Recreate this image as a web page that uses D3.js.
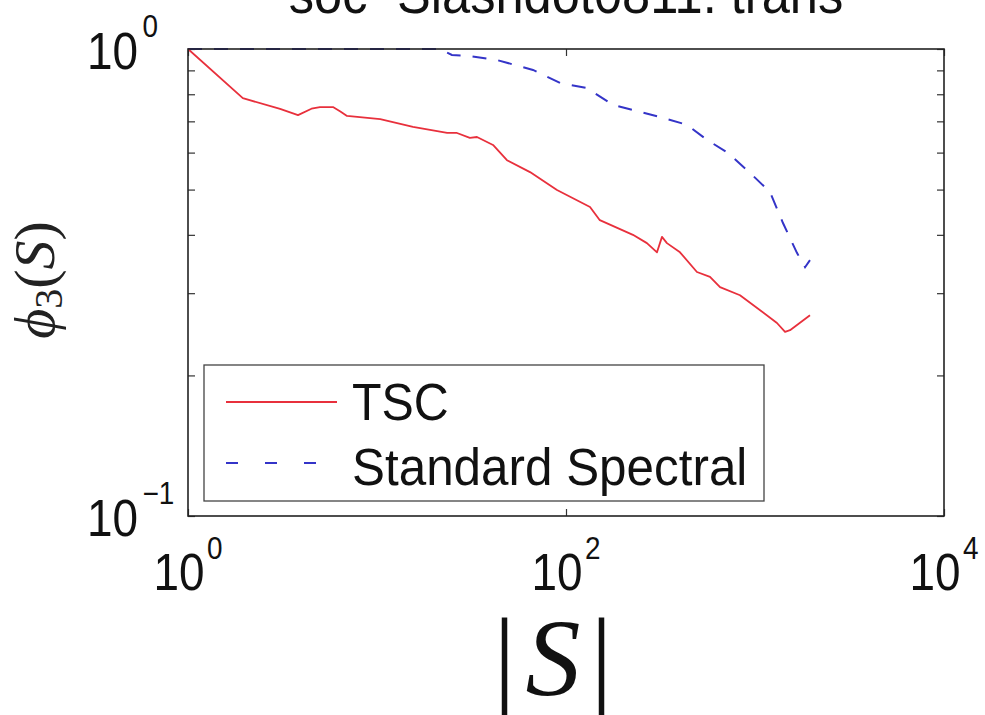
<!DOCTYPE html>
<html>
<head>
<meta charset="utf-8">
<script src="https://cdn.jsdelivr.net/npm/d3@7"></script>
<style>
  html, body { margin: 0; padding: 0; background: #fff; }
  svg { display: block; }
</style>
</head>
<body>
<script>
// ---- data ----
const titleText = "soc\u2212Slashdot0811: trans";
const seriesNames = ["TSC", "Standard Spectral"];

const tscX = [1, 1.95, 3.07, 3.82, 4.5, 4.99, 5.85, 6.4, 6.94, 10.4, 15.5, 23.5, 26.5, 31.0, 33.8, 41.1, 48.7, 64.5, 89.6, 134, 151, 226, 268, 303, 322, 342, 401, 493, 578, 653, 833, 1307, 1442, 1532, 1954];
const tscY = [1.0, 0.785, 0.744, 0.722, 0.745, 0.751, 0.751, 0.735, 0.719, 0.708, 0.681, 0.661, 0.661, 0.645, 0.648, 0.623, 0.578, 0.545, 0.499, 0.459, 0.430, 0.400, 0.384, 0.367, 0.396, 0.384, 0.367, 0.333, 0.325, 0.309, 0.297, 0.259, 0.248, 0.250, 0.269];

const specX = [1, 21.5, 24.9, 31, 43.1, 66.9, 93, 129, 177, 226, 314, 437, 557, 719, 941, 1200, 1406, 1667, 1840, 1954];
const specY = [1, 1, 0.971, 0.966, 0.947, 0.902, 0.846, 0.825, 0.759, 0.740, 0.715, 0.688, 0.639, 0.599, 0.543, 0.494, 0.424, 0.366, 0.341, 0.353];

const xMajorTicks = [1, 100, 10000];
const xTickExp = ["0", "2", "4"];
const yMajorTicks = [1, 0.1];
const yTickExp = ["0", "\u22121"];
const yMinorTicks = [0.2, 0.3, 0.4, 0.5, 0.6, 0.7, 0.8, 0.9];

// ---- layout ----
const W = 985, H = 715;
const L = 188, R = 944, T = 49, B = 516;
const SANS = "'Liberation Sans', Arial, Helvetica, sans-serif";
const SERIF = "'Liberation Serif', 'Times New Roman', Times, serif";
const SX = 0.9; // horizontal squeeze of the reference's glyphs

const svg = d3.select("body").append("svg").attr("width", W).attr("height", H);
svg.append("rect").attr("width", W).attr("height", H).attr("fill", "#fff");

const x = d3.scaleLog().domain([1, 1e4]).range([L, R]);
const y = d3.scaleLog().domain([0.1, 1]).range([B, T]);

// ticks (inward)
const tickLen = 7;
const axStyle = g => {
  g.select(".domain").remove();
  g.selectAll(".tick line").attr("stroke", "#333").attr("stroke-width", 1.2);
  g.selectAll(".tick text").remove();
};
svg.append("g").attr("transform", `translate(0,${B})`)
  .call(d3.axisBottom(x).tickValues(xMajorTicks).tickSize(-tickLen).tickFormat(""))
  .call(axStyle);
svg.append("g").attr("transform", `translate(0,${T})`)
  .call(d3.axisTop(x).tickValues(xMajorTicks).tickSize(-tickLen).tickFormat(""))
  .call(axStyle);
svg.append("g").attr("transform", `translate(${L},0)`)
  .call(d3.axisLeft(y).tickValues(yMinorTicks.concat(yMajorTicks)).tickSize(-tickLen).tickFormat(""))
  .call(axStyle);
svg.append("g").attr("transform", `translate(${R},0)`)
  .call(d3.axisRight(y).tickValues(yMinorTicks.concat(yMajorTicks)).tickSize(-tickLen).tickFormat(""))
  .call(axStyle);

// helper for squeezed text
function sText(px, py, sx) {
  return svg.append("g").attr("transform", `translate(${px},${py}) scale(${sx},1)`).append("text");
}

// title
sText(566, 13, 0.92).attr("text-anchor", "middle")
  .attr("font-family", SANS).attr("font-size", 55).attr("fill", "#111")
  .text(titleText);

// x tick labels
xMajorTicks.forEach((v, i) => {
  const t = sText(x(v), 590, SX).attr("text-anchor", "middle")
    .attr("font-family", SANS).attr("font-size", 51).attr("fill", "#111");
  t.append("tspan").text("10");
  t.append("tspan").attr("font-size", 31).attr("dy", -31).attr("dx", 3).text(xTickExp[i]);
});

// y tick labels
yMajorTicks.forEach((v, i) => {
  const t = sText(L - 101, y(v) + 19.5, SX).attr("text-anchor", "start")
    .attr("font-family", SANS).attr("font-size", 51).attr("fill", "#111");
  t.append("tspan").text("10");
  t.append("tspan").attr("font-size", 31).attr("dy", -32).attr("dx", 5).text(yTickExp[i]);
});

// data lines
const line = d3.line().x(d => x(d[0])).y(d => y(d[1]));
svg.append("clipPath").attr("id", "pa").append("rect")
  .attr("x", L).attr("y", T - 2).attr("width", R - L).attr("height", B - T + 4);

svg.append("path").datum(specX.map((v, i) => [v, specY[i]]))
  .attr("clip-path", "url(#pa)")
  .attr("d", line).attr("fill", "none").attr("stroke", "#3434c8")
  .attr("stroke-width", 2).attr("stroke-dasharray", "14,12");

svg.append("path").datum(tscX.map((v, i) => [v, tscY[i]]))
  .attr("clip-path", "url(#pa)")
  .attr("d", line).attr("fill", "none").attr("stroke", "#e8303c")
  .attr("stroke-width", 1.8).attr("stroke-linejoin", "round");

// frame
svg.append("rect").attr("x", L).attr("y", T).attr("width", R - L).attr("height", B - T)
  .attr("fill", "none").attr("stroke", "#222").attr("stroke-width", 1.6);

// legend
const lg = svg.append("g");
lg.append("rect").attr("x", 204).attr("y", 365).attr("width", 560).attr("height", 136)
  .attr("fill", "#fff").attr("stroke", "#444").attr("stroke-width", 1.3);
lg.append("line").attr("x1", 226).attr("x2", 337).attr("y1", 402).attr("y2", 402)
  .attr("stroke", "#e8303c").attr("stroke-width", 1.8);
lg.append("line").attr("x1", 226).attr("x2", 337).attr("y1", 463).attr("y2", 463)
  .attr("stroke", "#3434c8").attr("stroke-width", 1.8).attr("stroke-dasharray", "12,27");
sText(352, 420, 0.93).attr("font-family", SANS).attr("font-size", 52).attr("fill", "#111").text(seriesNames[0]);
sText(352, 485, 0.95).attr("font-family", SANS).attr("font-size", 52).attr("fill", "#111").text(seriesNames[1]);

// x axis label |S|
const xl = svg.append("text").attr("x", 553).attr("y", 695).attr("text-anchor", "middle")
  .attr("font-family", SERIF).attr("font-size", 110).attr("fill", "#111");
xl.append("tspan").text("|");
xl.append("tspan").attr("font-style", "italic").attr("dx", 10).text("S");
xl.append("tspan").attr("dx", 10).text("|");

// y axis label phi_3(S)
const yl = svg.append("text").attr("transform", "translate(54,280) rotate(-90)")
  .attr("text-anchor", "middle").attr("font-family", SERIF).attr("font-size", 58).attr("fill", "#222");
yl.append("tspan").attr("font-style", "italic").text("\u03D5");
yl.append("tspan").attr("font-size", 40).attr("dy", 8).text("3");
yl.append("tspan").attr("dy", -8).text("(");
yl.append("tspan").attr("font-style", "italic").text("S");
yl.append("tspan").text(")");
</script>
</body>
</html>
